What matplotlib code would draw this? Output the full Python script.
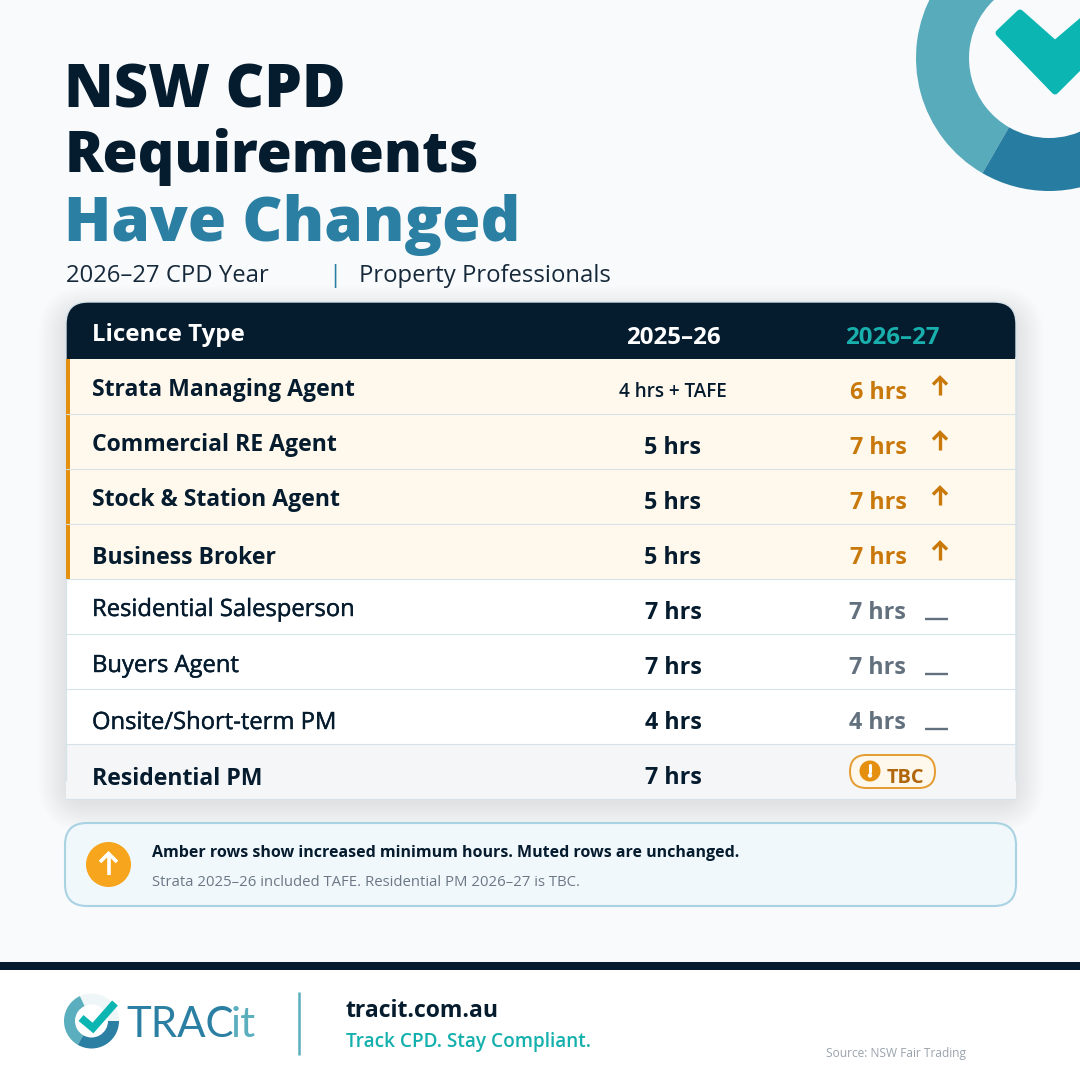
import matplotlib
matplotlib.use('Agg')
import matplotlib.pyplot as plt
import matplotlib.patheffects as pe
from matplotlib.patches import FancyBboxPatch, Rectangle, Circle, Wedge, Polygon

plt.rcParams['font.family'] = ['Open Sans', 'DejaVu Sans']

# table data
licences = ['Strata Managing Agent', 'Commercial RE Agent', 'Stock & Station Agent', 'Business Broker',
            'Residential Salesperson', 'Buyers Agent', 'Onsite/Short-term PM', 'Residential PM']
hours_2025 = ['4 hrs + TAFE', '5 hrs', '5 hrs', '5 hrs', '7 hrs', '7 hrs', '4 hrs', '7 hrs']
hours_2026 = ['6 hrs', '7 hrs', '7 hrs', '7 hrs', '7 hrs', '7 hrs', '4 hrs', 'TBC']
status = ['up', 'up', 'up', 'up', 'same', 'same', 'same', 'tbc']

NAVY = '#051B2E'
BLUE = '#2A7FA3'
LIGHT = '#5AAEBD'
TEAL = '#0AB5B2'
AMBER = '#E58F0E'
AMBER_TXT = '#C9780A'
MUTED = '#63717F'
LINE = '#D6E3EA'

fig = plt.figure(figsize=(10.8, 10.8), dpi=100, facecolor='#F9FAFC')
ax = fig.add_axes([0, 0, 1, 1])
ax.set_xlim(0, 1080)
ax.set_ylim(1080, 0)
ax.axis('off')


def txt(x, y, s, px, color=NAVY, weight='normal', ha='left', **kw):
    return ax.text(x, y, s, fontsize=px * 0.72, color=color, fontweight=weight, ha=ha, va='baseline', **kw)


def rbox(x0, y0, x1, y1, r, **kw):
    p = FancyBboxPatch((x0, y0), x1 - x0, y1 - y0, boxstyle=f'round,pad=0,rounding_size={r}', **kw)
    ax.add_patch(p)
    return p


def up_arrow(x, y0, y1, color, lw):
    ax.plot([x, x], [y0, y1], color=color, lw=lw, solid_capstyle='butt')
    ax.plot([x - 7, x, x + 7], [y1 + 7, y1, y1 + 7], color=color, lw=lw, solid_joinstyle='miter', solid_capstyle='butt')


# big logo top right
ax.add_patch(Wedge((1049, 58), 133, 120, 300, width=53, fc='#57ABBB', ec='none'))
ax.add_patch(Wedge((1049, 58), 133, 0, 120, width=53, fc='#277DA1', ec='none'))
ax.add_patch(Polygon([(1020, 13), (999, 33), (1055, 91), (1110, 36), (1089, 15), (1055, 44)],
                     closed=True, fc=TEAL, ec=TEAL, lw=5, joinstyle='round'))

# title
txt(64.5, 107, 'NSW CPD', 59.7, weight=800)
txt(64.5, 171.5, 'Requirements', 57, weight=800)
txt(64.5, 241, 'Have Changed', 62, color=BLUE, weight=800)
txt(66, 282, '2026–27 CPD Year', 23.9, color='#16293A')
txt(328, 282, '|', 24, color=BLUE)
txt(359, 282, 'Property Professionals', 23.9, color='#16293A')

# soft shadow under the table
for i in range(24):
    g = 28 - i * 1.2
    rbox(66 - g, 304 - g + 10, 1016 + g, 798 + g + 6, 22 + g, fc='#4A5F70', ec='none', alpha=0.0035)

# table
rbox(66, 302, 1016, 400, 22, fc=NAVY, ec=LINE, lw=1)
txt(92, 341, 'Licence Type', 24, color='white', weight='bold')
txt(673, 344, '2025–26', 24, color='white', weight='bold', ha='center')
txt(892, 344, '2026–27', 24, color='#18AFAC', weight='bold', ha='center')

row_top = 358.5
row_h = 55
label_base = [396, 451, 506, 564, 616, 672, 729, 785]
for i, name in enumerate(licences):
    y0 = row_top + i * row_h
    kind = status[i]
    fc = {'up': '#FFF8EC', 'same': 'white', 'tbc': '#F4F6F8'}[kind]
    ax.add_patch(Rectangle((66, y0), 950, row_h, fc=fc, ec='none'))
    ax.plot([66, 1016], [y0 + row_h, y0 + row_h], color=LINE, lw=0.8, solid_capstyle='butt')
    if kind == 'up':
        ax.add_patch(Rectangle((66, y0), 4, row_h, fc=AMBER, ec='none'))
    if kind == 'same':
        t = txt(92, label_base[i], name, 23.8)
        t.set_path_effects([pe.withStroke(linewidth=0.3, foreground=NAVY)])
    else:
        txt(92, label_base[i], name, 23, weight='bold')
    base = y0 + 40.5
    if i == 0:
        txt(673, base - 2, hours_2025[i], 18.9, ha='center', weight=600)
    else:
        txt(673, base, hours_2025[i], 23.2, ha='center', weight='bold')
    if kind == 'up':
        txt(878, base, hours_2026[i], 23.2, color=AMBER_TXT, ha='center', weight='bold')
        up_arrow(940, y0 + 36, y0 + 19, AMBER_TXT, 2.4)
    elif kind == 'same':
        txt(877, base, hours_2026[i], 23.2, color=MUTED, ha='center', weight='bold')
        ax.plot([925, 948], [y0 + 40.5, y0 + 40.5], color=MUTED, lw=1.7, solid_capstyle='butt')
    else:
        rbox(850, 755, 935, 788, 16.5, fc='#FEF7EC', ec='#E59B2F', lw=1.4)
        ax.add_patch(Circle((870, 771), 10.5, fc=AMBER, ec='none'))
        ax.plot([870, 870], [765, 772], color='white', lw=2.2, solid_capstyle='round')
        ax.add_patch(Circle((870, 775.5), 2.2, fc='white', ec='none'))
        txt(887, 783, hours_2026[i], 20, color='#B0660A', weight='bold')
ax.plot([1016, 1016], [358, 780], color=LINE, lw=1.1)
ax.plot([66, 66], [579, 780], color=LINE, lw=0.9)

# note box
rbox(65, 823, 1016, 906, 22, fc='#F0F8FB', ec='#A9D2E3', lw=1.5)
ax.add_patch(Circle((108.5, 864.5), 22.5, fc='#F7A51C', ec='none'))
ax.plot([108.5, 108.5], [875, 854], color='white', lw=2.6, solid_capstyle='butt')
ax.plot([100, 108.5, 117], [862, 853.5, 862], color='white', lw=2.6, solid_joinstyle='miter', solid_capstyle='butt')
txt(152, 857, 'Amber rows show increased minimum hours. Muted rows are unchanged.', 16, weight='bold')
txt(152, 886, 'Strata 2025–26 included TAFE. Residential PM 2026–27 is TBC.', 14.9, color='#6B7785')

# footer
ax.add_patch(Rectangle((0, 970), 1080, 110, fc='white', ec='none'))
ax.add_patch(Rectangle((0, 962), 1080, 8, fc=NAVY, ec='none'))
ax.add_patch(Wedge((91.5, 1021), 27.5, 245, 360, width=11, fc='#EEF6F8', ec='none'))
ax.add_patch(Wedge((91.5, 1021), 27.5, 120, 245, width=11, fc=LIGHT, ec='none'))
ax.add_patch(Wedge((91.5, 1021), 27.5, 0, 120, width=11, fc=BLUE, ec='none'))
ax.plot([81, 93, 115], [1018, 1028, 1003], color=TEAL, lw=5.5, solid_joinstyle='miter', solid_capstyle='butt')
ax.text(126, 1037, 'TRAC', fontsize=42 * 0.72, color=BLUE, family='Lato', fontweight='normal', va='baseline')
ax.text(231, 1037, 'it', fontsize=42 * 0.72, color=LIGHT, family='Lato', fontweight='normal', va='baseline')
ax.plot([299, 299], [992, 1055], color=LIGHT, lw=1.8, solid_capstyle='butt')
txt(346, 1017, 'tracit.com.au', 23, weight='bold')
txt(346, 1047, 'Track CPD. Stay Compliant.', 19, color='#14B0AD', weight=600)
txt(826, 1057, 'Source: NSW Fair Trading', 12, color='#9AA3AD')

fig.savefig('out.png', dpi=100, facecolor=fig.get_facecolor())
